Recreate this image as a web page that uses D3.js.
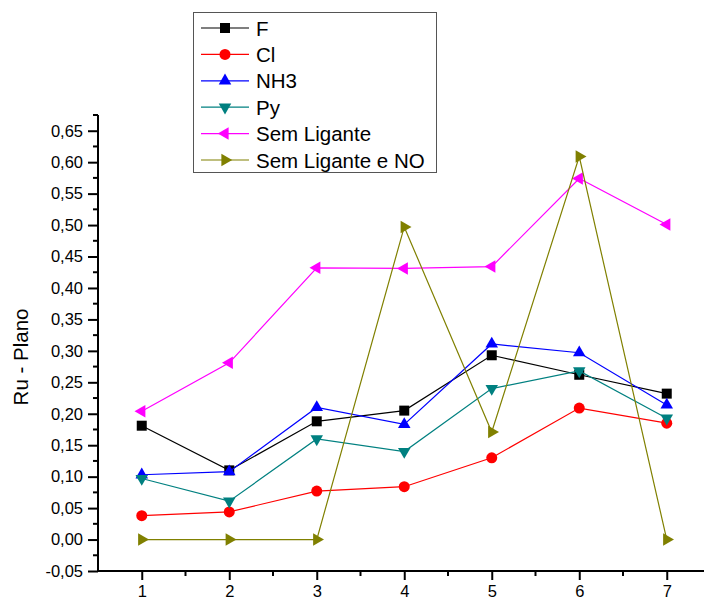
<!DOCTYPE html>
<html>
<head>
<meta charset="utf-8">
<script src="https://cdn.jsdelivr.net/npm/d3@7"></script>
<style>
  body { margin: 0; background: #fff; }
  svg { display: block; font-family: "Liberation Sans", Arial, sans-serif; }
</style>
</head>
<body>
<svg id="chart" width="704" height="599"></svg>
<script>
// data
const xValues = [1, 2, 3, 4, 5, 6, 7];
const seriesNames = ["F", "Cl", "NH3", "Py", "Sem Ligante", "Sem Ligante e NO"];
const fValues    = [0.181, 0.110, 0.188, 0.205, 0.293, 0.262, 0.232];
const clValues   = [0.038, 0.044, 0.077, 0.084, 0.130, 0.209, 0.185];
const nh3Values  = [0.103, 0.108, 0.210, 0.183, 0.311, 0.297, 0.214];
const pyValues   = [0.097, 0.061, 0.160, 0.140, 0.240, 0.268, 0.193];
const slValues   = [0.204, 0.281, 0.432, 0.431, 0.434, 0.574, 0.501];
const slnoValues = [0.000, 0.000, 0.000, 0.497, 0.171, 0.609, 0.000];
const yTicks = [-0.05, 0, 0.05, 0.1, 0.15, 0.2, 0.25, 0.3, 0.35, 0.4, 0.45, 0.5, 0.55, 0.6, 0.65];
const yTitle = "Ru - Plano";

const series = [
  {name: seriesNames[0], values: fValues,    color: "#000000", symbol: d3.symbolSquare,   size: 100, rot: 0},
  {name: seriesNames[1], values: clValues,   color: "#ff0000", symbol: d3.symbolCircle,   size: 95,  rot: 0},
  {name: seriesNames[2], values: nh3Values,  color: "#0000ff", symbol: d3.symbolTriangle, size: 68,  rot: 0},
  {name: seriesNames[3], values: pyValues,   color: "#008080", symbol: d3.symbolTriangle, size: 68,  rot: 180},
  {name: seriesNames[4], values: slValues,   color: "#ff00ff", symbol: d3.symbolTriangle, size: 68,  rot: -90},
  {name: seriesNames[5], values: slnoValues, color: "#808000", symbol: d3.symbolTriangle, size: 68,  rot: 90}
];

const svg = d3.select("#chart");
const locale = d3.formatLocale({decimal: ",", thousands: ".", grouping: [3], currency: ["", ""], minus: "-"});
const fmt = locale.format(".2f");

const x = d3.scaleLinear().domain([0.5, 7.5]).range([98, 710.5]);
const y = d3.scaleLinear().domain([-0.05, 0.675]).range([571, 115]);

// y axis
const yAxis = svg.append("g").attr("transform", "translate(98,0)");
yAxis.call(d3.axisLeft(y).tickValues(yTicks).tickFormat(fmt).tickSize(10).tickPadding(5));
const yMinor = d3.range(-0.025, 0.68, 0.05);
yAxis.selectAll(".minor").data(yMinor).enter().append("line")
  .attr("class", "minor")
  .attr("x1", -5).attr("x2", 0)
  .attr("y1", d => y(d)).attr("y2", d => y(d));

// x axis
const xAxis = svg.append("g").attr("transform", "translate(0,571)");
xAxis.call(d3.axisBottom(x).tickValues(xValues).tickFormat(d3.format("d")).tickSize(9).tickPadding(5));
const xMinor = d3.range(1.5, 7.6, 1);
xAxis.selectAll(".minor").data(xMinor).enter().append("line")
  .attr("class", "minor")
  .attr("y1", 0).attr("y2", 5)
  .attr("x1", d => x(d)).attr("x2", d => x(d));

svg.selectAll(".domain").remove();
yAxis.append("line").attr("x1", 0).attr("x2", 0).attr("y1", y.range()[1]).attr("y2", y.range()[0]);
xAxis.append("line").attr("x1", x.range()[0] - 1).attr("x2", x.range()[1]).attr("y1", 0).attr("y2", 0);
svg.selectAll("g line").attr("stroke", "#000").attr("stroke-width", 2);
svg.selectAll(".tick text").attr("fill", "#000").style("font-size", "16.5px").style("font-family", "'Liberation Sans', Arial, sans-serif");

// y title
svg.append("text")
  .attr("transform", "translate(28,357) rotate(-90)")
  .attr("text-anchor", "middle")
  .style("font-size", "20.5px")
  .text(yTitle);

// series
const line = d3.line().x((d, i) => x(xValues[i])).y(d => y(d));
series.forEach(s => {
  const g = svg.append("g");
  g.append("path")
    .attr("d", line(s.values))
    .attr("fill", "none")
    .attr("stroke", s.color)
    .attr("stroke-width", 1.2);
  g.selectAll("path.pt").data(s.values).enter().append("path")
    .attr("class", "pt")
    .attr("d", d3.symbol().type(s.symbol).size(s.size))
    .attr("transform", (d, i) => `translate(${x(xValues[i])},${y(d)}) rotate(${s.rot})`)
    .attr("fill", s.color);
});

// legend
const legend = svg.append("g");
legend.append("rect")
  .attr("x", 193.5).attr("y", 12.5).attr("width", 243).attr("height", 160)
  .attr("fill", "#fff").attr("stroke", "#555").attr("stroke-width", 1);
series.forEach((s, i) => {
  const ly = 28 + i * 26.4;
  legend.append("line")
    .attr("x1", 201).attr("x2", 249).attr("y1", ly).attr("y2", ly)
    .attr("stroke", s.color).attr("stroke-width", 1.2);
  legend.append("path")
    .attr("d", d3.symbol().type(s.symbol).size(s.size))
    .attr("transform", `translate(225,${ly}) rotate(${s.rot})`)
    .attr("fill", s.color);
  legend.append("text")
    .attr("x", 256).attr("y", ly + 7.5)
    .style("font-size", "20.5px")
    .text(s.name);
});
</script>
</body>
</html>
